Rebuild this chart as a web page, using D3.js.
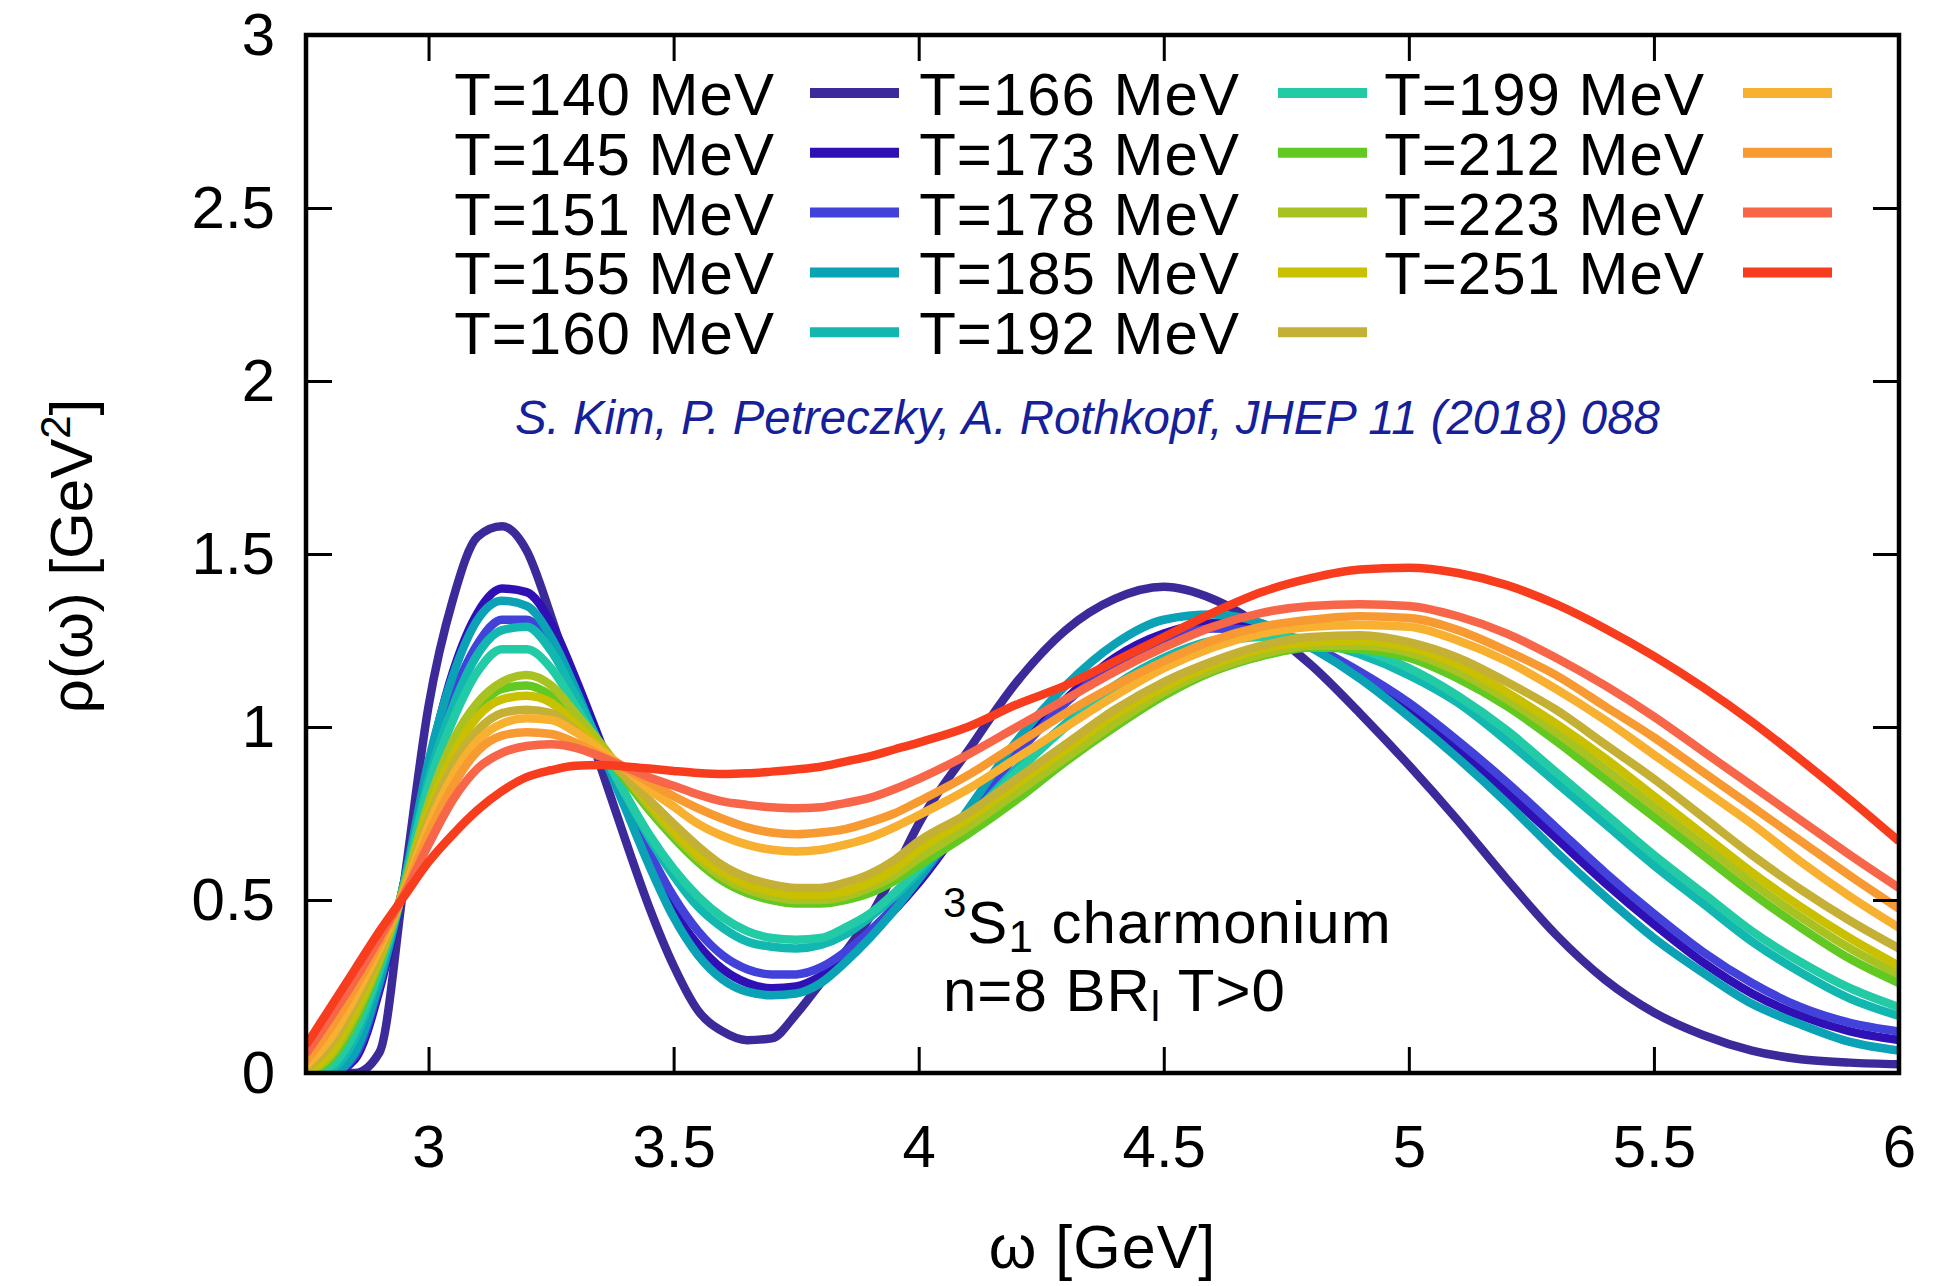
<!DOCTYPE html>
<html><head><meta charset="utf-8">
<script src="https://cdn.jsdelivr.net/npm/d3@7"></script>
<style>
html,body{margin:0;padding:0;background:#fff;}
svg{display:block;}
text{font-family:"Liberation Sans",Arial,Helvetica,sans-serif;fill:#000;}
</style></head><body>
<svg id="chart" width="1937" height="1286"></svg>
<script>
// ---------- data ----------
const omega = [2.75,2.8,2.85,2.9,2.95, 3.0,3.05,3.1,3.15,3.2,3.25,3.3,
  3.35,3.4,3.45,3.5,3.55,3.6,3.65,3.7,3.75,3.8,3.85,3.9,3.95,
  4.0,4.1,4.2,4.3,4.4,4.5,4.6,4.7,4.8,4.9,
  5.0,5.1,5.2,5.3,5.4,5.5,5.6,5.7,5.8,5.9,6.0];

const temperatures = [140,145,151,155,160,166,173,178,185,192,199,212,223,251];
const seriesColors = ["#3d2a9a","#2f10b5","#4242da","#0aa2b4","#12b8b0","#22cba6",
  "#62c822","#a8c222","#c8c000","#c4b034","#f8b030","#f89a32","#f8664a","#f83c1e"];

const rho140 = [0,0,0,0.06,0.55, 1.06,1.37,1.55,1.58,1.51,1.32,1.10,
  0.89,0.68,0.48,0.31,0.18,0.12,0.095,0.10,0.17,0.26,0.35,0.45,0.58,
  0.72,0.93,1.13,1.28,1.37,1.405,1.37,1.29,1.18,1.04,
  0.89,0.73,0.56,0.40,0.27,0.175,0.11,0.065,0.04,0.03,0.025];
const rho145 = [0,0,0.04,0.24,0.55, 0.89,1.16,1.33,1.40,1.39,1.30,1.14,
  0.96,0.78,0.61,0.47,0.37,0.30,0.26,0.245,0.25,0.28,0.33,0.40,0.47,
  0.55,0.74,0.93,1.08,1.20,1.27,1.30,1.285,1.23,1.15,
  1.05,0.94,0.81,0.68,0.55,0.43,0.32,0.23,0.165,0.12,0.095];
const rho151 = [0,0,0.05,0.255,0.55, 0.87,1.09,1.24,1.31,1.31,1.23,1.09,
  0.94,0.79,0.64,0.51,0.41,0.34,0.30,0.285,0.285,0.305,0.35,0.41,0.48,
  0.56,0.74,0.92,1.07,1.18,1.25,1.285,1.28,1.235,1.16,
  1.07,0.96,0.84,0.71,0.58,0.46,0.35,0.26,0.19,0.145,0.12];
const rho155 = [0,0,0.06,0.265,0.55, 0.90,1.15,1.31,1.365,1.35,1.26,1.11,
  0.94,0.77,0.60,0.45,0.34,0.27,0.235,0.225,0.23,0.26,0.32,0.39,0.47,
  0.56,0.76,0.96,1.12,1.24,1.31,1.325,1.30,1.23,1.14,
  1.03,0.91,0.78,0.64,0.51,0.39,0.29,0.20,0.14,0.09,0.065];
const rho160 = [0,0.01,0.10,0.29,0.545, 0.85,1.06,1.21,1.28,1.29,1.22,1.09,
  0.95,0.81,0.68,0.57,0.48,0.42,0.38,0.365,0.36,0.37,0.40,0.45,0.51,
  0.58,0.73,0.88,1.01,1.12,1.20,1.25,1.265,1.25,1.21,
  1.15,1.07,0.96,0.84,0.72,0.60,0.49,0.38,0.29,0.215,0.165];
const rho166 = [0,0.02,0.12,0.30,0.54, 0.83,1.02,1.16,1.225,1.225,1.17,1.06,
  0.94,0.81,0.69,0.59,0.51,0.45,0.41,0.39,0.385,0.39,0.42,0.46,0.52,
  0.59,0.73,0.87,1.00,1.11,1.19,1.24,1.26,1.255,1.225,
  1.17,1.09,0.99,0.87,0.75,0.63,0.52,0.41,0.32,0.245,0.19];
const rho173 = [0,0.04,0.15,0.32,0.54, 0.77,0.94,1.05,1.11,1.12,1.09,1.02,
  0.94,0.85,0.76,0.68,0.61,0.555,0.52,0.50,0.49,0.49,0.50,0.52,0.555,
  0.60,0.69,0.79,0.90,1.00,1.09,1.16,1.205,1.23,1.225,
  1.20,1.14,1.06,0.96,0.85,0.74,0.63,0.52,0.42,0.33,0.26];
const rho178 = [0,0.05,0.165,0.325,0.535, 0.78,0.96,1.07,1.13,1.15,1.12,1.04,
  0.955,0.86,0.77,0.69,0.62,0.565,0.53,0.51,0.50,0.50,0.51,0.535,0.57,
  0.62,0.71,0.81,0.91,1.01,1.10,1.165,1.21,1.235,1.235,
  1.215,1.16,1.08,0.985,0.88,0.77,0.66,0.55,0.45,0.36,0.285];
const rho185 = [0,0.06,0.18,0.335,0.53, 0.755,0.92,1.03,1.08,1.09,1.07,1.01,
  0.94,0.86,0.78,0.70,0.63,0.58,0.545,0.525,0.515,0.515,0.525,0.55,0.59,
  0.645,0.735,0.835,0.935,1.035,1.115,1.18,1.225,1.245,1.25,
  1.23,1.18,1.10,1.01,0.91,0.80,0.69,0.58,0.48,0.39,0.31];
const rho192 = [0.01,0.08,0.20,0.345,0.53, 0.735,0.89,0.99,1.04,1.05,1.04,0.99,
  0.93,0.86,0.79,0.72,0.655,0.60,0.565,0.545,0.535,0.535,0.55,0.575,0.615,
  0.67,0.75,0.85,0.95,1.05,1.13,1.19,1.235,1.26,1.265,
  1.245,1.20,1.13,1.05,0.95,0.85,0.74,0.63,0.53,0.44,0.36];
const rho199 = [0.02,0.10,0.22,0.36,0.525, 0.715,0.86,0.96,1.01,1.025,1.02,0.985,
  0.935,0.88,0.82,0.77,0.72,0.685,0.66,0.645,0.64,0.645,0.66,0.68,0.71,
  0.745,0.82,0.91,1.00,1.09,1.17,1.23,1.27,1.29,1.295,
  1.29,1.25,1.19,1.11,1.02,0.92,0.82,0.72,0.61,0.51,0.42];
const rho212 = [0.035,0.13,0.245,0.375,0.52, 0.69,0.83,0.93,0.975,0.985,0.98,0.955,
  0.92,0.88,0.84,0.80,0.765,0.735,0.71,0.695,0.69,0.695,0.705,0.725,0.75,
  0.785,0.86,0.95,1.04,1.12,1.19,1.25,1.29,1.31,1.32,
  1.315,1.28,1.22,1.15,1.06,0.97,0.87,0.77,0.67,0.57,0.475];
const rho223 = [0.055,0.16,0.27,0.39,0.515, 0.66,0.79,0.88,0.925,0.945,0.95,0.94,
  0.915,0.885,0.855,0.83,0.805,0.785,0.775,0.768,0.765,0.768,0.78,0.795,0.82,
  0.85,0.92,1.00,1.08,1.16,1.23,1.29,1.33,1.35,1.355,
  1.35,1.32,1.27,1.20,1.12,1.03,0.93,0.83,0.73,0.63,0.535];
const rho251 = [0.08,0.19,0.30,0.41,0.51, 0.61,0.69,0.76,0.815,0.855,0.875,0.888,
  0.89,0.886,0.88,0.873,0.867,0.864,0.866,0.871,0.877,0.885,0.90,0.915,0.935,
  0.955,1.00,1.065,1.12,1.19,1.26,1.33,1.39,1.43,1.455,
  1.46,1.445,1.41,1.355,1.285,1.205,1.115,1.015,0.905,0.79,0.67];

const seriesValues = [rho140,rho145,rho151,rho155,rho160,rho166,rho173,rho178,
  rho185,rho192,rho199,rho212,rho223,rho251];

const xTickValues = [3,3.5,4,4.5,5,5.5,6];
const yTickValues = [0,0.5,1,1.5,2,2.5,3];

// ---------- layout ----------
const svg = d3.select("#chart");
const L = 306, R = 1899, T = 35, B = 1073;
const x = d3.scaleLinear().domain([2.75, 6]).range([L, R]);
const y = d3.scaleLinear().domain([0, 3]).range([B, T]);
const fmt = d => String(d);

svg.append("defs").append("clipPath").attr("id","plotclip")
  .append("rect").attr("x",L).attr("y",T).attr("width",R-L).attr("height",B-T);

// curves
const line = d3.line().x(d => x(d[0])).y(d => y(d[1])).curve(d3.curveMonotoneX);
const curves = svg.append("g").attr("clip-path","url(#plotclip)");
seriesValues.forEach((vals, i) => {
  curves.append("path")
    .datum(omega.map((w, k) => [w, vals[k]]))
    .attr("d", line)
    .attr("fill","none")
    .attr("stroke", seriesColors[i])
    .attr("stroke-width", 8.5)
    .attr("stroke-linejoin","round");
});

// axes
const tickLen = 26;
function styleAxis(g){
  g.select(".domain").remove();
  g.selectAll(".tick line").attr("stroke","#000").attr("stroke-width",3);
  g.selectAll(".tick text").attr("font-size",60)
    .attr("font-family",'"Liberation Sans",Arial,Helvetica,sans-serif').attr("fill","#000");
}
svg.append("g").attr("transform",`translate(0,${B})`)
  .call(d3.axisBottom(x).tickValues(xTickValues).tickFormat(fmt)
    .tickSizeInner(-tickLen).tickSizeOuter(0).tickPadding(51))
  .call(styleAxis);
svg.append("g").attr("transform",`translate(0,${T})`)
  .call(d3.axisTop(x).tickValues(xTickValues).tickFormat("")
    .tickSizeInner(-tickLen).tickSizeOuter(0))
  .call(styleAxis);
svg.append("g").attr("transform",`translate(${L},0)`)
  .call(d3.axisLeft(y).tickValues(yTickValues).tickFormat(fmt)
    .tickSizeInner(-tickLen).tickSizeOuter(0).tickPadding(31))
  .call(styleAxis);
svg.append("g").attr("transform",`translate(${R},0)`)
  .call(d3.axisRight(y).tickValues(yTickValues).tickFormat("")
    .tickSizeInner(-tickLen).tickSizeOuter(0))
  .call(styleAxis);

// frame
svg.append("rect").attr("x",L).attr("y",T).attr("width",R-L).attr("height",B-T)
  .attr("fill","none").attr("stroke","#000").attr("stroke-width",4.5);

// axis titles
svg.append("text").attr("x",(L+R)/2).attr("y",1268).attr("text-anchor","middle")
  .attr("font-size",61).attr("letter-spacing",1).text("ω [GeV]");
const yt = svg.append("text").attr("transform","translate(92,556) rotate(-90)")
  .attr("text-anchor","middle").attr("font-size",60);
yt.append("tspan").text("ρ(ω) [GeV");
yt.append("tspan").attr("font-size",42).attr("dy",-22).text("2");
yt.append("tspan").attr("dy",22).text("]");

// legend
const legendCols = [{tx:775, lx:810},{tx:1240, lx:1278},{tx:1705, lx:1743}];
temperatures.forEach((t, i) => {
  const col = legendCols[Math.floor(i/5)];
  const cy = 93 + (i % 5) * 59.8;
  svg.append("text").attr("x",col.tx).attr("y",cy+22).attr("text-anchor","end")
    .attr("font-size",60).attr("letter-spacing",1).text(`T=${t} MeV`);
  svg.append("line").attr("x1",col.lx).attr("x2",col.lx+89)
    .attr("y1",cy).attr("y2",cy)
    .attr("stroke",seriesColors[i]).attr("stroke-width",10);
});

// citation
svg.append("text").attr("x",515).attr("y",434).attr("font-size",47.4)
  .attr("font-style","italic").style("fill","#16209a")
  .text("S. Kim, P. Petreczky, A. Rothkopf, JHEP 11 (2018) 088");

// annotation
const a1 = svg.append("text").attr("x",943).attr("y",943).attr("font-size",60).attr("letter-spacing",1);
a1.append("tspan").attr("font-size",42).attr("dy",-26).text("3");
a1.append("tspan").attr("dy",26).text("S");
a1.append("tspan").attr("font-size",44).attr("dy",9).text("1");
a1.append("tspan").attr("dy",-9).text(" charmonium");
const a2 = svg.append("text").attr("x",943).attr("y",1011).attr("font-size",60).attr("letter-spacing",1);
a2.append("tspan").text("n=8 BR");
a2.append("tspan").attr("font-size",42).attr("dy",10).text("l");
a2.append("tspan").attr("dy",-10).text(" T>0");
</script>
</body></html>
